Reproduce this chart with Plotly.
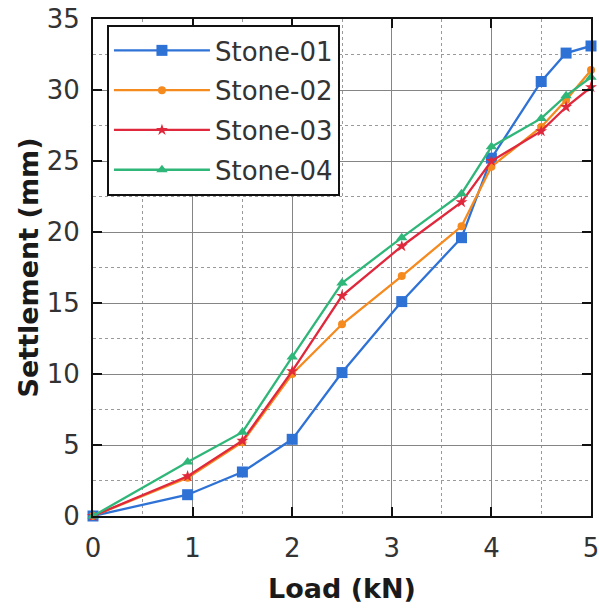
import plotly.graph_objects as go

load = [0, 0.95, 1.5, 2.0, 2.5, 3.1, 3.7, 4.0, 4.5, 4.75, 5.0]
stone01 = [0, 1.5, 3.1, 5.4, 10.1, 15.1, 19.6, 25.2, 30.6, 32.6, 33.1]
stone02 = [0, 2.7, 5.2, 10.0, 13.5, 16.9, 20.4, 24.6, 27.4, 29.3, 31.4]
stone03 = [0, 2.8, 5.3, 10.2, 15.5, 19.0, 22.1, 25.0, 27.1, 28.8, 30.2]
stone04 = [0, 3.8, 5.9, 11.2, 16.4, 19.6, 22.7, 26.0, 28.0, 29.6, 30.9]

names = ["Stone-01", "Stone-02", "Stone-03", "Stone-04"]
series = [stone01, stone02, stone03, stone04]
colors = ["#2f72d6", "#f58a1f", "#e0283c", "#2fb679"]
symbols = ["square", "circle", "star", "triangle-up"]
msizes = [11, 8, 9, 10]

x_ticks = [0, 1, 2, 3, 4, 5]
y_ticks = [0, 5, 10, 15, 20, 25, 30, 35]

fig = go.Figure()
for i, (n, s) in enumerate(zip(names, series)):
    fig.add_trace(go.Scatter(
        x=load, y=s, name=n, mode="lines+markers",
        line=dict(color=colors[i], width=2.3),
        marker=dict(symbol=symbols[i], size=msizes[i], color=colors[i]),
        cliponaxis=False, legendgroup=n,
    ))

font_fam = "DejaVu Sans, Verdana, sans-serif"
axis_common = dict(
    showline=True, linewidth=2, linecolor="#111", mirror="ticks",
    ticks="inside", ticklen=9, tickwidth=2, tickcolor="#111",
    showgrid=True, gridcolor="#858585", gridwidth=1.4,
    zeroline=False, automargin=False, ticklabeloverflow="allow",
    tickfont=dict(family=font_fam, size=26, color="#333"),
)

fig.update_layout(
    width=599, height=608,
    margin=dict(l=93, r=8, t=19, b=92),
    paper_bgcolor="white", plot_bgcolor="white",
    font=dict(family=font_fam, color="#222"),
    xaxis=dict(
        range=[0, 5], tickvals=x_ticks,
        minor=dict(dtick=0.5, showgrid=True, griddash="dot", gridcolor="#9a9a9a", gridwidth=1.3, ticks=""),
        title=dict(text="<b>Load (kN)</b>", font=dict(family=font_fam, size=27, color="#1a1a1a"), standoff=17),
        ticklabelstandoff=8,
        **axis_common,
    ),
    yaxis=dict(
        range=[0, 35], tickvals=y_ticks,
        minor=dict(dtick=2.5, showgrid=True, griddash="dot", gridcolor="#9a9a9a", gridwidth=1.3, ticks=""),
        title=dict(text="<b>Settlement (mm)</b>", font=dict(family=font_fam, size=27, color="#1a1a1a"), standoff=0),
        ticklabelstandoff=6,
        **axis_common,
    ),
    legend=dict(
        x=0.028, y=0.988, xanchor="left", yanchor="top",
        bgcolor="white", bordercolor="#111", borderwidth=2,
        font=dict(family=font_fam, size=26, color="#333"),
        tracegroupgap=3, itemwidth=96,
    ),
    showlegend=True,
)

fig.write_html("out.html", config={"displayModeBar": False},
               post_script="document.body.style.margin='0px';")
